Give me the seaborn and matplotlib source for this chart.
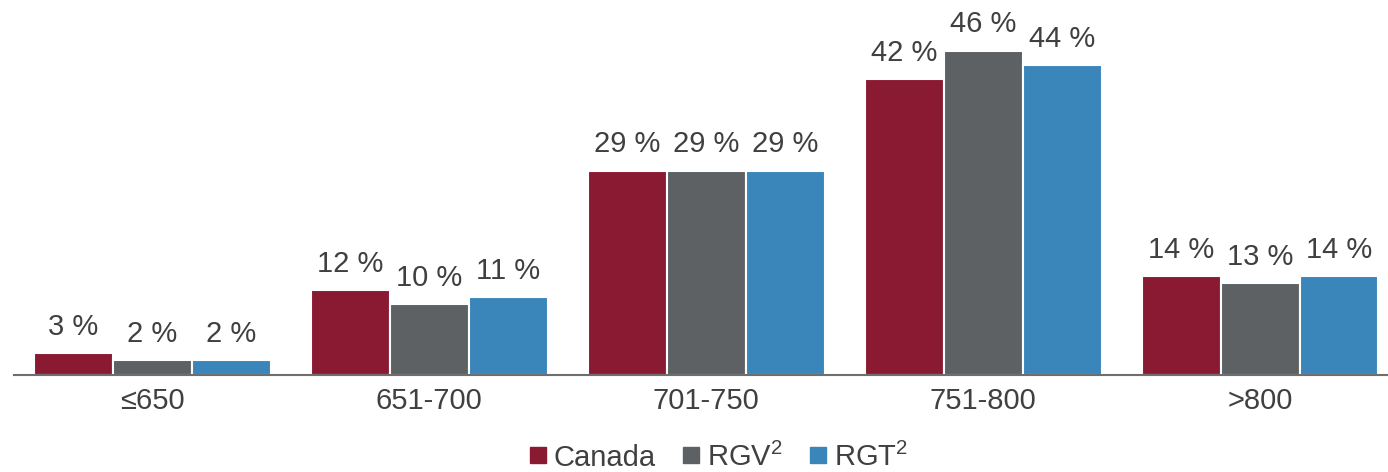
import matplotlib
matplotlib.use("Agg")
import matplotlib.pyplot as plt
from matplotlib.lines import Line2D
import seaborn as sns
import pandas as pd

# Credit score bands and share of borrowers (%)
categories = ["≤650", "651-700", "701-750", "751-800", ">800"]
series_names = ["Canada", "RGV", "RGT"]
legend_labels = ["Canada", "RGV$^2$", "RGT$^2$"]
canada = [3, 12, 29, 42, 14]
rgv = [2, 10, 29, 46, 13]
rgt = [2, 11, 29, 44, 14]

colors = ["#8A1A32", "#5E6164", "#3A86BA"]
text_color = "#404040"

sns.set_theme(style="white")
plt.rcParams["font.family"] = ["Liberation Sans", "DejaVu Sans"]
plt.rcParams["mathtext.fontset"] = "custom"
plt.rcParams["mathtext.rm"] = "Liberation Sans"
plt.rcParams["mathtext.it"] = "Liberation Sans"

df = pd.DataFrame({
    "band": categories * 3,
    "series": [s for s in series_names for _ in categories],
    "value": canada + rgv + rgt,
})

fig = plt.figure(figsize=(13.88, 4.72), dpi=100)
ax = fig.add_axes([14 / 1388, 97.5 / 472, 1374 / 1388, 351.7 / 472])

sns.barplot(data=df, x="band", y="value", hue="series", order=categories,
            hue_order=series_names, palette=colors, width=0.855,
            edgecolor="white", linewidth=1.5, saturation=1, ax=ax, legend=False)

for container in ax.containers:
    ax.bar_label(container, fmt="{:.0f} %", padding=9, fontsize=21,
                 color=text_color)

ax.set_ylim(0, 50)
ax.set_xlim(-0.5, 4.462)
ax.set_xlabel("")
ax.set_ylabel("")
ax.set_yticks([])
for side in ["top", "right", "left"]:
    ax.spines[side].set_visible(False)
ax.spines["bottom"].set_color("#6E6E6E")
ax.spines["bottom"].set_linewidth(1.5)
ax.tick_params(axis="x", length=0, pad=9, labelsize=21, labelcolor=text_color)

handles = [Line2D([], [], marker="s", linestyle="none", markersize=12,
                  markerfacecolor=c, markeredgecolor=c) for c in colors]
fig.legend(handles, legend_labels, loc="center", bbox_to_anchor=(718.5 / 1388, 1 - 457 / 472),
           ncol=3, frameon=False, fontsize=21, handlelength=0.6,
           handletextpad=0.25, columnspacing=0.9, labelcolor=text_color,
           borderaxespad=0)

fig.savefig("out.png", dpi=100)
